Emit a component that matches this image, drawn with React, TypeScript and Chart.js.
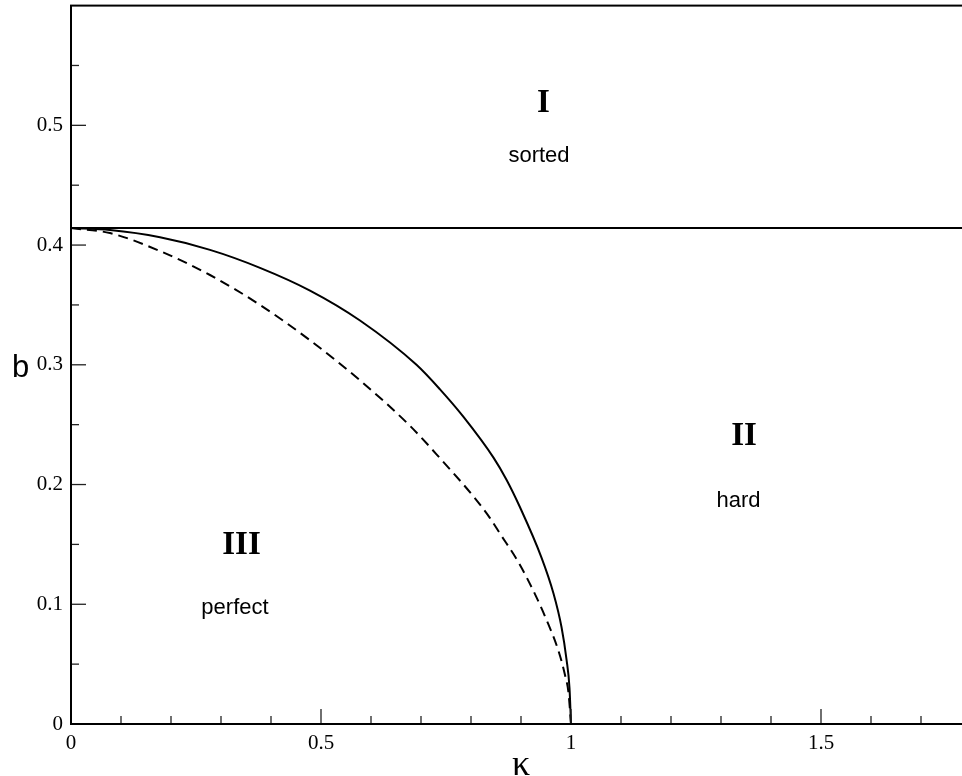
import React, { useEffect, useRef } from 'react';
import { Chart, registerables } from 'chart.js';

Chart.register(...registerables);

// Solid phase boundary (II / III)
const K_SOLID = [0, 0.078, 0.178, 0.278, 0.378, 0.478, 0.578, 0.691, 0.738, 0.785, 0.845, 0.871, 0.898, 0.941, 0.965, 0.981, 0.991, 0.997, 1];
const B_SOLID = [0.4142, 0.4125, 0.4065, 0.396, 0.381, 0.362, 0.337, 0.3, 0.2795, 0.2565, 0.2225, 0.204, 0.181, 0.139, 0.109, 0.081, 0.054, 0.03, 0];

// Dashed curve
const K_DASH = [0, 0.078, 0.178, 0.278, 0.378, 0.478, 0.578, 0.678, 0.738, 0.805, 0.838, 0.858, 0.895, 0.925, 0.951, 0.975, 0.988, 0.995, 1];
const B_DASH = [0.4142, 0.41, 0.395, 0.375, 0.35, 0.3205, 0.287, 0.249, 0.222, 0.19, 0.172, 0.159, 0.135, 0.111, 0.087, 0.061, 0.041, 0.026, 0];

// Horizontal boundary (I / II)
const K_FLAT = [0, 1.8];
const B_FLAT = [0.4142, 0.4142];

// Region annotations (data coordinates)
const REGION_NAMES = ['I', 'II', 'III'];
const REGION_K = [0.945, 1.346, 0.341];
const REGION_B = [0.511, 0.233, 0.142];
const PHASE_NAMES = ['sorted', 'hard', 'perfect'];
const PHASE_K = [0.936, 1.335, 0.328];
const PHASE_B = [0.469, 0.181, 0.092];

const X_MIN = 0;
const X_MAX = 1.8;
const Y_MIN = 0;
const Y_MAX = 0.6;

const toPoints = (xs: number[], ys: number[]) => xs.map((x, i) => ({ x, y: ys[i] }));
const fmt = (v: any) => String(Math.round(Number(v) * 10) / 10);

export default function App() {
  const ref = useRef<HTMLCanvasElement>(null);

  useEffect(() => {
    const canvas = ref.current;
    if (!canvas) return;

    const framePlugin = {
      id: 'framePlugin',
      afterDatasetsDraw(chart: any) {
        const { ctx, chartArea: a, scales } = chart;
        const xs = scales.x;
        const ys = scales.y;
        ctx.save();
        // inward ticks
        ctx.strokeStyle = '#222';
        ctx.lineWidth = 1.3;
        for (let i = 1; i <= 18; i++) {
          const px = xs.getPixelForValue(i / 10);
          const len = i % 5 === 0 ? 15 : 8;
          ctx.beginPath();
          ctx.moveTo(px, a.bottom);
          ctx.lineTo(px, a.bottom - len);
          ctx.stroke();
        }
        for (let i = 1; i < 12; i++) {
          const py = ys.getPixelForValue(i * 0.05);
          const len = i % 2 === 0 ? 15 : 8;
          ctx.beginPath();
          ctx.moveTo(a.left, py);
          ctx.lineTo(a.left + len, py);
          ctx.stroke();
        }
        // frame
        ctx.strokeStyle = '#000';
        ctx.lineWidth = 2;
        ctx.strokeRect(a.left, a.top, a.right - a.left, a.bottom - a.top);

        // region labels
        ctx.fillStyle = '#000';
        ctx.textAlign = 'center';
        ctx.textBaseline = 'alphabetic';
        ctx.font = 'bold 33px "Liberation Serif", serif';
        REGION_NAMES.forEach((t, i) => {
          ctx.fillText(t, xs.getPixelForValue(REGION_K[i]), ys.getPixelForValue(REGION_B[i]));
        });
        ctx.font = '22px "Liberation Sans", sans-serif';
        PHASE_NAMES.forEach((t, i) => {
          ctx.fillText(t, xs.getPixelForValue(PHASE_K[i]), ys.getPixelForValue(PHASE_B[i]));
        });

        // axis titles
        ctx.font = '36px "Liberation Serif", serif';
        ctx.textAlign = 'center';
        ctx.fillText('κ', (a.left + a.right) / 2, a.bottom + 51);
        ctx.font = '31px "Liberation Sans", sans-serif';
        ctx.textAlign = 'left';
        ctx.fillText('b', a.left - 59, (a.top + a.bottom) / 2 + 12);
        ctx.restore();
      },
    };

    const chart = new Chart(canvas, {
      type: 'line',
      data: {
        datasets: [
          {
            data: toPoints(K_FLAT, B_FLAT),
            borderColor: '#000',
            borderWidth: 2,
            pointRadius: 0,
            fill: false,
          },
          {
            data: toPoints(K_SOLID, B_SOLID),
            borderColor: '#000',
            borderWidth: 2,
            pointRadius: 0,
            fill: false,
            cubicInterpolationMode: 'monotone',
          },
          {
            data: toPoints(K_DASH, B_DASH),
            borderColor: '#000',
            borderWidth: 2,
            borderDash: [10, 6],
            pointRadius: 0,
            fill: false,
            cubicInterpolationMode: 'monotone',
          },
        ],
      },
      options: {
        animation: false,
        responsive: false,
        devicePixelRatio: 1,
        layout: { padding: { left: 0, top: 5, right: 29, bottom: 0 } },
        plugins: { legend: { display: false }, tooltip: { enabled: false } },
        scales: {
          x: {
            type: 'linear',
            min: X_MIN,
            max: X_MAX,
            grid: { display: false, drawTicks: false },
            border: { display: false },
            ticks: {
              stepSize: 0.5,
              includeBounds: false,
              padding: 7,
              color: '#000',
              font: { family: '"Liberation Serif", serif', size: 21 },
              maxRotation: 0,
              callback: fmt,
            },
            afterFit: (s: any) => {
              s.height = 76;
            },
          },
          y: {
            type: 'linear',
            min: Y_MIN,
            max: Y_MAX,
            grid: { display: false, drawTicks: false },
            border: { display: false },
            ticks: {
              stepSize: 0.1,
              includeBounds: false,
              padding: 8,
              color: '#000',
              font: { family: '"Liberation Serif", serif', size: 21 },
              callback: (v: any) => (Math.abs(Number(v) - Y_MAX) < 1e-6 ? null : fmt(v)),
            },
            afterFit: (s: any) => {
              s.width = 71;
            },
          },
        },
      },
      plugins: [framePlugin],
    } as any);

    return () => chart.destroy();
  }, []);

  return (
    <div
      style={{
        position: 'fixed',
        left: 0,
        top: 0,
        width: 962,
        height: 776,
        overflow: 'hidden',
        background: '#fff',
      }}
    >
      <canvas
        ref={ref}
        width={1000}
        height={815}
        style={{ width: 1000, height: 815, display: 'block', position: 'absolute', left: 0, top: -15 }}
      />
    </div>
  );
}
